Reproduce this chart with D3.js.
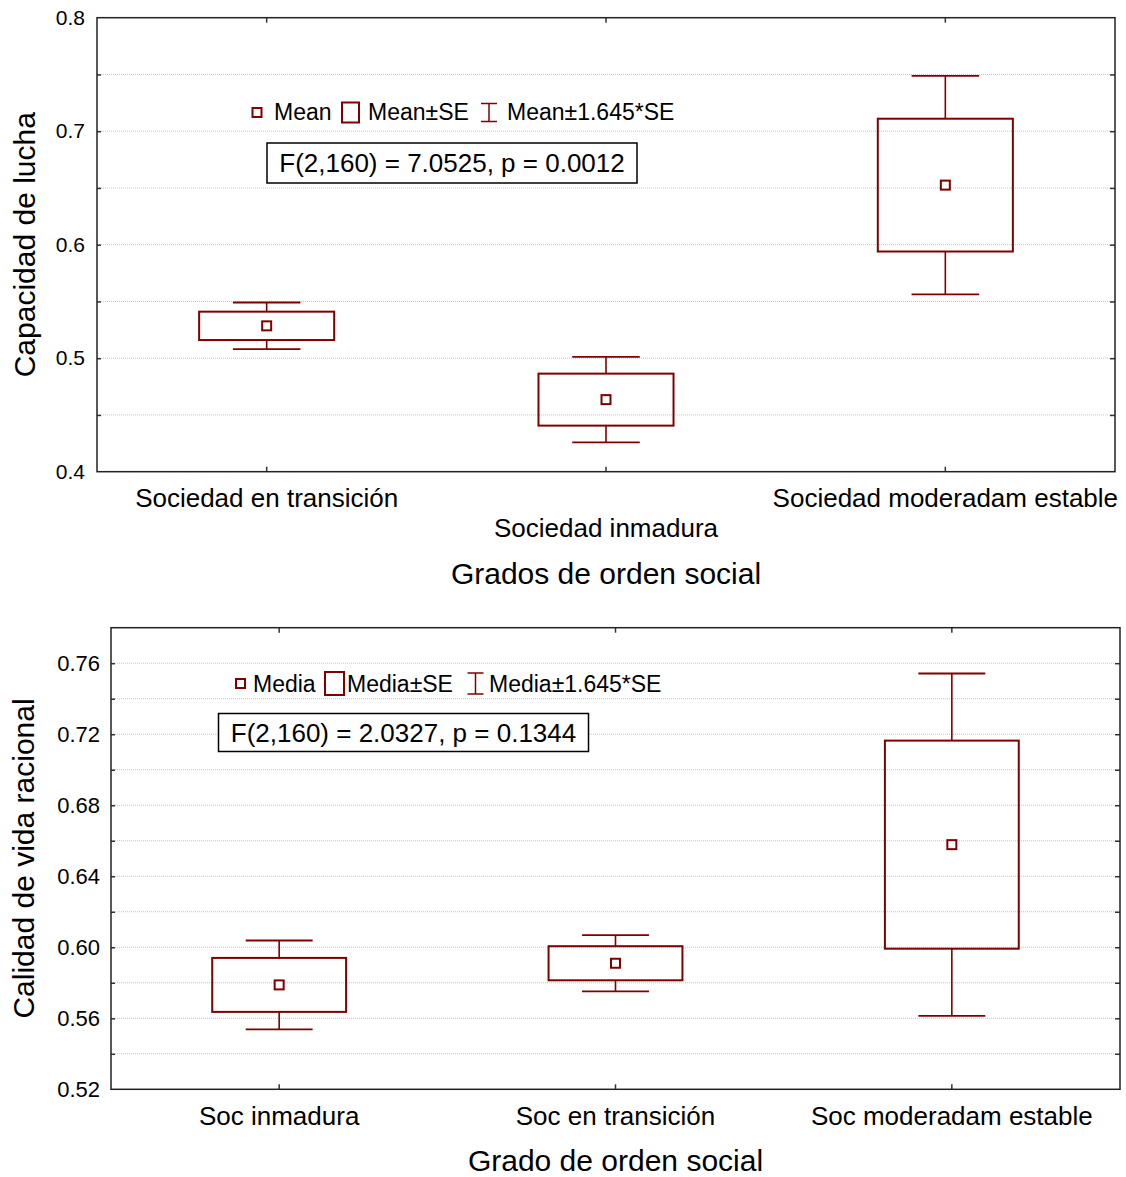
<!DOCTYPE html>
<html>
<head>
<meta charset="utf-8">
<script src="https://cdn.jsdelivr.net/npm/d3@7"></script>
<style>
  html, body { margin: 0; padding: 0; background: #fff; }
  svg { display: block; font-family: "Liberation Sans", Arial, sans-serif; }
</style>
</head>
<body>
<svg id="chart" width="1126" height="1177"></svg>
<script>
// ---- Panel 1: Capacidad de lucha ----
const topCategories = ["Sociedad en transición", "Sociedad inmadura", "Sociedad moderadam estable"];
const topMeans = [0.5285, 0.4635, 0.6525];
const topSE = [0.0125, 0.0229, 0.0585];
const topTicks = [0.4, 0.5, 0.6, 0.7, 0.8];
const topGrid = [0.45, 0.5, 0.55, 0.6, 0.65, 0.7, 0.75];
const topLegend = ["Mean", "Mean±SE", "Mean±1.645*SE"];
const topStat = "F(2,160) = 7.0525, p = 0.0012";

// ---- Panel 2: Calidad de vida racional ----
const bottomCategories = ["Soc inmadura", "Soc en transición", "Soc moderadam estable"];
const bottomMeans = [0.5788, 0.5910, 0.6578];
const bottomSE = [0.0152, 0.0096, 0.0586];
const bottomTicks = [0.52, 0.56, 0.60, 0.64, 0.68, 0.72, 0.76];
const bottomGrid = [0.54, 0.56, 0.58, 0.60, 0.62, 0.64, 0.66, 0.68, 0.70, 0.72, 0.74, 0.76];
const bottomLegend = ["Media", "Media±SE", "Media±1.645*SE"];
const bottomStat = "F(2,160) = 2.0327, p = 0.1344";

const Z = 1.645;
const RED = "#800000";
const svg = d3.select("#chart");

function drawPanel(o) {
  const g = svg.append("g");
  const x = d3.scaleBand().domain(o.categories).range([o.left, o.right]).padding(0);
  const y = d3.scaleLinear().domain(o.domain).range([o.bottom, o.top]);
  const cx = d => x(d) + x.bandwidth() / 2;
  const boxW = x.bandwidth() * 0.398;
  const capW = boxW / 2;

  // dotted horizontal grid
  g.append("g").selectAll("line").data(o.grid).join("line")
    .attr("x1", o.left).attr("x2", o.right)
    .attr("y1", d => y(d)).attr("y2", d => y(d))
    .attr("stroke", "#c4c4c4").attr("stroke-width", 1)
    .attr("stroke-dasharray", "1,1");

  // value axis labels
  const yAxis = d3.axisLeft(y).tickValues(o.ticks).tickSize(0).tickPadding(o.labelPad)
    .tickFormat(d3.format(o.fmt));
  const ya = g.append("g").attr("transform", `translate(${o.left},0)`).call(yAxis);
  ya.select(".domain").remove();
  ya.selectAll("text").attr("font-size", o.tickFont).attr("fill", "#000")
    .attr("font-family", "Liberation Sans, Arial, sans-serif");

  // inward minor ticks on left and right axes
  const la = g.append("g").attr("transform", `translate(${o.left},0)`)
    .call(d3.axisLeft(y).tickValues(o.grid).tickSize(-4).tickFormat(""));
  la.select(".domain").remove();
  const ra = g.append("g").attr("transform", `translate(${o.right},0)`)
    .call(d3.axisRight(y).tickValues(o.grid).tickSize(-5).tickFormat(""));
  ra.select(".domain").remove();

  // inward category ticks on top and bottom axes
  const ta = g.append("g").attr("transform", `translate(0,${o.top})`)
    .call(d3.axisTop(x).tickSize(-5).tickFormat(""));
  ta.select(".domain").remove();
  const ba = g.append("g").attr("transform", `translate(0,${o.bottom})`)
    .call(d3.axisBottom(x).tickSize(-5).tickFormat(""));
  ba.select(".domain").remove();
  g.selectAll(".tick line").attr("stroke", "#333").attr("stroke-width", 1.5);

  // frame
  g.append("rect").attr("x", o.left).attr("y", o.top)
    .attr("width", o.right - o.left).attr("height", o.bottom - o.top)
    .attr("fill", "none").attr("stroke", "#222").attr("stroke-width", 1.5);

  // category labels (optionally staggered)
  g.append("g").selectAll("text").data(o.categories).join("text")
    .attr("x", d => cx(d))
    .attr("y", (d, i) => o.labelY + (o.stagger && i % 2 === 1 ? o.staggerDy : 0))
    .attr("text-anchor", "middle").attr("font-size", 26).attr("fill", "#000")
    .text(d => d);

  // axis titles
  g.append("text").attr("x", (o.left + o.right) / 2).attr("y", o.xTitleY)
    .attr("text-anchor", "middle").attr("font-size", 30).attr("fill", "#000").text(o.xTitle);
  g.append("text")
    .attr("transform", `translate(${o.yTitleX},${(o.top + o.bottom) / 2}) rotate(-90)`)
    .attr("text-anchor", "middle").attr("font-size", 30).attr("fill", "#000").text(o.yTitle);

  // boxes and whiskers
  const rows = o.categories.map((c, i) => ({ c, m: o.means[i], se: o.se[i] }));
  const marks = g.append("g").selectAll("g").data(rows).join("g");
  marks.append("line") // upper whisker
    .attr("x1", d => cx(d.c)).attr("x2", d => cx(d.c))
    .attr("y1", d => y(d.m + Z * d.se)).attr("y2", d => y(d.m + d.se))
    .attr("stroke", RED).attr("stroke-width", 1.6);
  marks.append("line") // lower whisker
    .attr("x1", d => cx(d.c)).attr("x2", d => cx(d.c))
    .attr("y1", d => y(d.m - d.se)).attr("y2", d => y(d.m - Z * d.se))
    .attr("stroke", RED).attr("stroke-width", 1.6);
  [1, -1].forEach(s => {
    marks.append("line")
      .attr("x1", d => cx(d.c) - capW / 2).attr("x2", d => cx(d.c) + capW / 2)
      .attr("y1", d => y(d.m + s * Z * d.se)).attr("y2", d => y(d.m + s * Z * d.se))
      .attr("stroke", RED).attr("stroke-width", 1.8);
  });
  marks.append("rect")
    .attr("x", d => cx(d.c) - boxW / 2).attr("width", boxW)
    .attr("y", d => y(d.m + d.se)).attr("height", d => y(d.m - d.se) - y(d.m + d.se))
    .attr("fill", "none").attr("stroke", RED).attr("stroke-width", 2);
  marks.append("rect")
    .attr("x", d => cx(d.c) - 4.5).attr("y", d => y(d.m) - 4.5)
    .attr("width", 9).attr("height", 9)
    .attr("fill", "#fff").attr("stroke", RED).attr("stroke-width", 2);

  // legend
  const L = o.legend;
  const lg = g.append("g");
  lg.append("rect").attr("x", L.markX - 4.5).attr("y", L.iconMid - 4.5)
    .attr("width", 9).attr("height", 9).attr("fill", "#fff")
    .attr("stroke", RED).attr("stroke-width", 2);
  lg.append("rect").attr("x", L.boxX).attr("y", L.iconMid - L.iconH / 2)
    .attr("width", L.boxW).attr("height", L.iconH)
    .attr("fill", "#fff").attr("stroke", RED).attr("stroke-width", 2);
  const wx = L.whiskX, wt = L.iconMid - L.iconH / 2 + 1, wb = L.iconMid + L.iconH / 2 - 1;
  lg.append("line").attr("x1", wx).attr("x2", wx).attr("y1", wt).attr("y2", wb)
    .attr("stroke", RED).attr("stroke-width", 1.5);
  [wt, wb].forEach(yy => lg.append("line")
    .attr("x1", wx - 8).attr("x2", wx + 8).attr("y1", yy).attr("y2", yy)
    .attr("stroke", RED).attr("stroke-width", 1.5));
  lg.selectAll("text.leg").data(o.legendText).join("text").attr("class", "leg")
    .attr("x", (d, i) => L.textX[i]).attr("y", L.baseline)
    .attr("font-size", 23).attr("fill", "#000").text(d => d);

  // test statistic box
  const S = o.stat;
  g.append("rect").attr("x", S.x).attr("y", S.y).attr("width", S.w).attr("height", S.h)
    .attr("fill", "#fff").attr("stroke", "#000").attr("stroke-width", 1.5);
  g.append("text").attr("x", S.x + S.w / 2).attr("y", S.baseline)
    .attr("text-anchor", "middle").attr("font-size", 26).attr("fill", "#000").text(o.statText);
}

drawPanel({
  categories: topCategories, means: topMeans, se: topSE,
  ticks: topTicks, grid: topGrid, fmt: ".1f", domain: [0.4, 0.8],
  left: 97, right: 1115, top: 17.7, bottom: 471.7,
  labelPad: 12, tickFont: 21,
  labelY: 507, stagger: true, staggerDy: 30,
  xTitle: "Grados de orden social", xTitleY: 584,
  yTitle: "Capacidad de lucha", yTitleX: 35,
  legendText: topLegend,
  legend: { markX: 257, boxX: 342, boxW: 17, whiskX: 489, iconMid: 112.5, iconH: 20,
            textX: [274, 368, 507], baseline: 120 },
  statText: topStat,
  stat: { x: 267, y: 143, w: 370, h: 40, baseline: 172 }
});

drawPanel({
  categories: bottomCategories, means: bottomMeans, se: bottomSE,
  ticks: bottomTicks, grid: bottomGrid, fmt: ".2f", domain: [0.52, 0.78],
  left: 111, right: 1120, top: 627.7, bottom: 1089.3,
  labelPad: 11, tickFont: 22,
  labelY: 1125, stagger: false, staggerDy: 0,
  xTitle: "Grado de orden social", xTitleY: 1171,
  yTitle: "Calidad de vida racional", yTitleX: 34,
  legendText: bottomLegend,
  legend: { markX: 240.5, boxX: 325, boxW: 19, whiskX: 475.5, iconMid: 683.5, iconH: 23,
            textX: [253, 347, 489], baseline: 692 },
  statText: bottomStat,
  stat: { x: 218.5, y: 713.5, w: 370, h: 38, baseline: 742 }
});
</script>
</body>
</html>
